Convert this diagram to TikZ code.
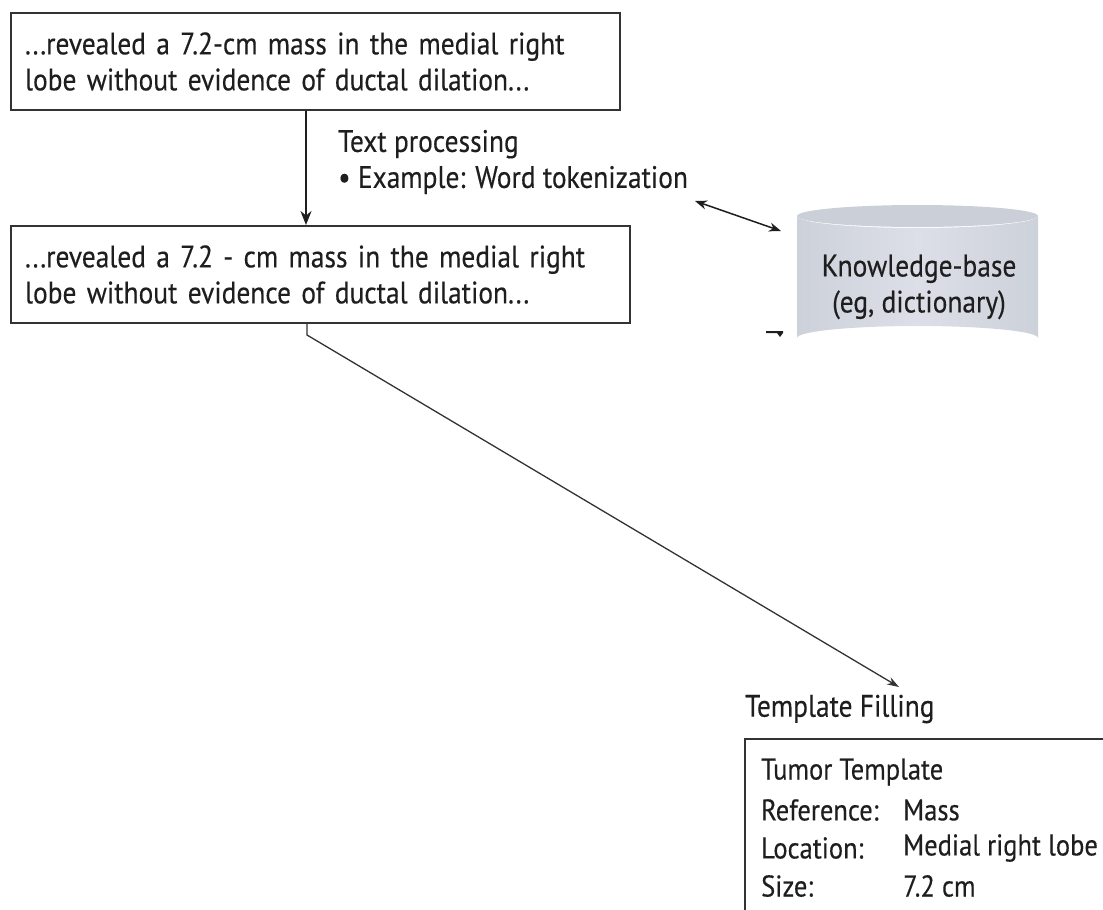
\documentclass[tikz,border=0pt]{standalone}
\usepackage{fontspec}
\setmainfont{PT Sans}[FakeStretch=0.885,FakeBold=0.3]
\usetikzlibrary{arrows.meta}
\definecolor{ink}{HTML}{1E1E1E}
\definecolor{rule}{HTML}{333333}
\definecolor{kbside}{HTML}{CDD1DA}
\definecolor{kbmid}{HTML}{DCDFE7}
\definecolor{kbtop}{HTML}{CBCFD8}
\begin{document}
\begin{tikzpicture}[x=1pt,y=-1pt,
  every node/.style={text=ink, font=\fontsize{31}{36}\selectfont},
  textbox/.style={draw=rule, line width=2pt, anchor=north west, align=left,
    inner xsep=14pt, inner ysep=0pt, minimum height=97pt},
  label/.style={anchor=west, inner sep=0pt, align=left},
  field/.style={label, font=\fontsize{30}{36}\selectfont},
  mainarrow/.style={draw=ink, line width=1.8pt, -{Stealth[length=14pt,width=11pt]}},
  linkarrow/.style={draw=ink, line width=1.5pt, {Stealth[length=12pt,width=9pt]}-{Stealth[length=12pt,width=9pt]}},
  thinarrow/.style={draw=rule, line width=1.3pt, -{Stealth[length=12pt,width=8pt]}}]
\useasboundingbox (0,0) rectangle (1103,910);
\clip (0,0) rectangle (1103,910);

% source sentence and its tokenized form
\node[textbox, text width=581pt] (raw) at (10,12)
  {...revealed a 7.2-cm mass in the medial right\\lobe without evidence of ductal dilation...};
\node[textbox, text width=591pt] (tok) at (10,225)
  {...revealed a 7.2 - cm mass in the medial right\\lobe without evidence of ductal dilation...};

\draw[mainarrow] (raw.south -| 306,0) -- (tok.north -| 306,0);

\node[label] (proc) at (338,162)
  {Text processing\\\textbullet\ Example: Word tokenization};

% knowledge base cylinder
\shade[left color=kbside, right color=kbside, middle color=kbmid]
  (797,216) -- (797,338)
  arc[start angle=180, end angle=0, x radius=120.5pt, y radius=12pt]
  -- (1038,216)
  arc[start angle=0, end angle=-180, x radius=120.5pt, y radius=12pt] -- cycle;
\fill[kbtop] (917.5,216) ellipse[x radius=120.5pt, y radius=11pt];
\node[align=center, inner sep=0pt] (kb) at (919,287) {Knowledge-base\\(eg, dictionary)};

\coordinate (linkA) at (695,201);
\coordinate (linkB) at (781,231);
\draw[linkarrow] (linkA) -- (linkB);

% short stub with its head at the foot of the cylinder
\coordinate (stub) at (775,331);
\fill[ink] ([xshift=-9pt]stub) -- ([xshift=8pt]stub) -- ([xshift=8pt,yshift=-2pt]stub)
  -- ([xshift=5pt,yshift=-6pt]stub) -- ([xshift=2pt,yshift=-2pt]stub)
  -- ([xshift=-9pt,yshift=-2pt]stub) -- cycle;

% hand-off to template filling
\coordinate (bend) at (307,335);
\coordinate (fillTip) at (899,687);
\draw[thinarrow] (tok.south -| 307,0) -- (bend) -- (fillTip);

\node[label] (fillLabel) at (745,709) {Template Filling};

\draw[draw=rule, line width=2pt] (1120,739) -- (745,739) -- (745,930);
\node[field] (tname) at (761,772) {Tumor Template};
\node[field] (refK) at (761,810) {Reference:};
\node[field] (refV) at (903,810) {Mass};
\node[field] (locK) at (761,848) {Location:};
\node[field] (locV) at (903,848) {Medial right lobe};
\node[field] (sizK) at (761,886) {Size:};
\node[field] (sizV) at (903,886) {7.2 cm};
\end{tikzpicture}
\end{document}
